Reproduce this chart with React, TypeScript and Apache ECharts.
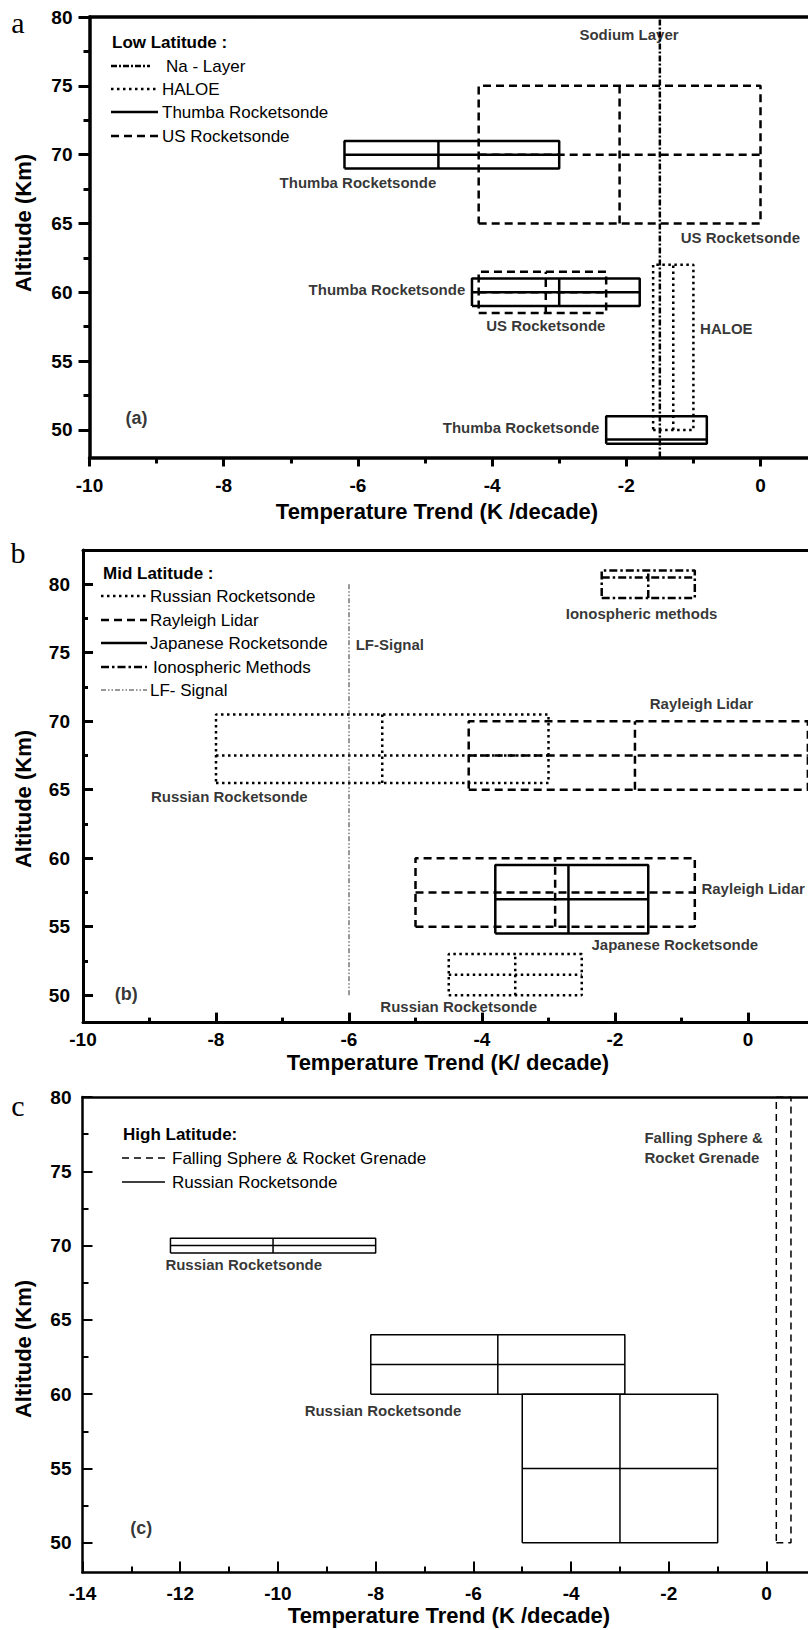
import React, { useEffect, useRef } from "react";
import * as echarts from "echarts";

// ---------- Panel a : Low latitude ----------
const aXLabels = [-10, -8, -6, -4, -2, 0];
const aYLabels = [50, 55, 60, 65, 70, 75, 80];
const aYMinor = [52.5, 57.5, 62.5, 67.5, 72.5, 77.5];
// box: [xLeft, xDivider, xRight, yBottom, yMiddle, yTop]
const aThumbaBoxes = [
  [-6.2, -4.8, -3.0, 69, 70, 71],
  [-4.3, -3.0, -1.8, 59, 60, 61],
  [-2.3, null, -0.8, 49, 49.3, 51],
];
const aUSBoxes = [
  [-4.2, -2.1, 0, 65, 70, 75],
  [-4.2, -3.2, -2.3, 58.5, 60, 61.5],
];
const aHaloeBoxes = [[-1.6, -1.3, -1.0, 50, null, 62]];
const aSodiumLine = [[-1.5, 48], [-1.5, 80]];
const aLabels = [
  ["Sodium Layer", -1.96, 78.7, "center"],
  ["Thumba Rocketsonde", -6.0, 68.0, "center"],
  ["US Rocketsonde", -0.3, 64.0, "center"],
  ["Thumba Rocketsonde", -4.4, 60.2, "right"],
  ["US Rocketsonde", -3.2, 57.6, "center"],
  ["HALOE", -0.9, 57.4, "left"],
  ["Thumba Rocketsonde", -2.4, 50.2, "right"],
];
const aTag = ["(a)", -9.3, 50.9];
const aLegend = ["Na - Layer", "HALOE", "Thumba Rocketsonde", "US Rocketsonde"];

// ---------- Panel b : Mid latitude ----------
const bXLabels = [-10, -8, -6, -4, -2, 0];
const bYLabels = [50, 55, 60, 65, 70, 75, 80];
const bYMinor = [52.5, 57.5, 62.5, 67.5, 72.5, 77.5];
const bRussianBoxes = [
  [-8.0, -5.5, -3.0, 65.5, 67.5, 70.5],
  [-4.5, -3.5, -2.5, 50, 51.5, 53],
];
const bRayleighBoxes = [
  [-4.2, -1.7, 0.9, 65, 67.5, 70],
  [-5.0, -2.9, -0.8, 55, 57.5, 60],
];
const bJapaneseBoxes = [[-3.8, -2.7, -1.5, 54.5, 57, 59.5]];
const bIonoBoxes = [[-2.2, -1.5, -0.8, 79, 80.5, 81]];
const bLFLine = [[-6, 50], [-6, 80]];
const bLabels = [
  ["Ionospheric methods", -1.6, 77.9, "center"],
  ["LF-Signal", -5.9, 75.6, "left"],
  ["Rayleigh Lidar", -0.7, 71.3, "center"],
  ["Russian Rocketsonde", -7.8, 64.5, "center"],
  ["Rayleigh Lidar", -0.7, 57.8, "left"],
  ["Japanese Rocketsonde", -1.1, 53.7, "center"],
  ["Russian Rocketsonde", -4.35, 49.2, "center"],
];
const bTag = ["(b)", -9.35, 50.1];
const bLegend = ["Russian Rocketsonde", "Rayleigh Lidar", "Japanese Rocketsonde", "Ionospheric Methods", "LF- Signal"];

// ---------- Panel c : High latitude ----------
const cXLabels = [-14, -12, -10, -8, -6, -4, -2, 0];
const cYLabels = [50, 55, 60, 65, 70, 75, 80];
const cYMinor = [52.5, 57.5, 62.5, 67.5, 72.5, 77.5];
const cRussianBoxes = [
  [-12.2, -10.1, -8.0, 69.5, 70, 70.5],
  [-8.1, -5.5, -2.9, 60, 62, 64],
  [-5.0, -3.0, -1.0, 50, 55, 60],
];
const cFallingBoxes = [[0.2, null, 0.5, 50, null, 80]];
const cLabels = [
  ["Falling Sphere &\nRocket Grenade", -2.5, 76.6, "left"],
  ["Russian Rocketsonde", -10.7, 68.7, "center"],
  ["Russian Rocketsonde", -7.85, 58.9, "center"],
];
const cTag = ["(c)", -12.8, 51.0];
const cLegend = ["Falling Sphere & Rocket Grenade", "Russian Rocketsonde"];

const FONT = '"Liberation Sans", Arial, Helvetica, sans-serif';
const SERIF = '"Liberation Serif", "Times New Roman", serif';

type St = { type: any; width: number; color?: string };
const ST: Record<string, St> = {
  na: { type: [6, 2, 2, 2], width: 2.5 },
  dot: { type: [2.5, 3.5], width: 2.5 },
  solid: { type: "solid", width: 2.5 },
  dash: { type: [8, 5], width: 2.5 },
  iono: { type: [8, 3, 2.5, 3], width: 2.5 },
  lf: { type: [5, 2, 1.5, 2, 1.5, 2], width: 1, color: "#333" },
  thin: { type: "solid", width: 1.5 },
  thinDash: { type: [7, 5], width: 1.5 },
};

function lineSeries(data: any[], st: St, xi: number, yi: number, name: string) {
  return {
    type: "line",
    name,
    xAxisIndex: xi,
    yAxisIndex: yi,
    data,
    symbol: "none",
    silent: true,
    lineStyle: { color: st.color || "#000", width: st.width, type: st.type, cap: "butt" },
    z: 3,
  };
}

function boxSeries(boxes: any[], st: St, xi: number, yi: number, name: string) {
  const out: any[] = [];
  boxes.forEach((b) => {
    const [x0, xm, x1, y0, ym, y1] = b;
    out.push(lineSeries([[x0, y0], [x1, y0], [x1, y1], [x0, y1], [x0, y0]], st, xi, yi, name));
    if (xm != null) out.push(lineSeries([[xm, y0], [xm, y1]], st, xi, yi, name));
    if (ym != null) out.push(lineSeries([[x0, ym], [x1, ym]], st, xi, yi, name));
  });
  return out;
}

function labelSeries(labels: any[], xi: number, yi: number, size: number) {
  return {
    type: "scatter",
    xAxisIndex: xi,
    yAxisIndex: yi,
    symbolSize: 1,
    silent: true,
    itemStyle: { color: "rgba(0,0,0,0)" },
    z: 5,
    data: labels.map((l) => ({
      value: [l[1], l[2]],
      label: {
        show: true,
        formatter: l[0],
        position: "inside",
        align: l[3] || "center",
        verticalAlign: "middle",
        color: "#000",
        fontFamily: FONT,
        fontWeight: "bold",
        fontSize: size,
        lineHeight: 20,
      },
    })),
  };
}

type PanelCfg = {
  grid: any;
  xMin: number;
  xMax: number;
  yMin: number;
  yMax: number;
  xLabels: number[];
  yLabels: number[];
  yMinor: number[];
  inside: boolean;
  lineW: number;
  tickW: number;
  xTickLen: number;
  xMinorLen: number;
  yTickLen: number;
  yMinorLen: number;
  xLabelMargin: number;
  yLabelMargin: number;
};

const PANELS: PanelCfg[] = [
  {
    grid: { left: 89.5, top: 17, width: 12 * 67.1, height: 440.5 },
    xMin: -10, xMax: 2, yMin: 48, yMax: 80,
    xLabels: aXLabels, yLabels: aYLabels, yMinor: aYMinor,
    inside: false, lineW: 3.5, tickW: 3, xTickLen: 9, xMinorLen: 6, yTickLen: 11, yMinorLen: 6,
    xLabelMargin: 18, yLabelMargin: 17,
  },
  {
    grid: { left: 83, top: 550, width: 12 * 66.5, height: 472.6 },
    xMin: -10, xMax: 2, yMin: 48, yMax: 82.5,
    xLabels: bXLabels, yLabels: bYLabels, yMinor: bYMinor,
    inside: true, lineW: 3, tickW: 3, xTickLen: 10, xMinorLen: 5, yTickLen: 10, yMinorLen: 5,
    xLabelMargin: 7, yLabelMargin: 13,
  },
  {
    grid: { left: 82.5, top: 1097, width: 16 * 48.86, height: 475.5 },
    xMin: -14, xMax: 2, yMin: 48, yMax: 80,
    xLabels: cXLabels, yLabels: cYLabels, yMinor: cYMinor,
    inside: true, lineW: 2.5, tickW: 2, xTickLen: 11, xMinorLen: 6, yTickLen: 10, yMinorLen: 6,
    xLabelMargin: 11, yLabelMargin: 11,
  },
];

const tickLabelStyle = { color: "#000", fontFamily: FONT, fontWeight: "bold", fontSize: 19 };

function buildAxes() {
  const grid: any[] = [];
  const xAxis: any[] = [];
  const yAxis: any[] = [];
  PANELS.forEach((p, gi) => {
    grid.push({ ...p.grid, containLabel: false });
    xAxis.push({
      type: "value", gridIndex: gi, position: "bottom", min: p.xMin, max: p.xMax, interval: 2,
      axisLine: { show: true, onZero: false, lineStyle: { color: "#000", width: p.lineW } },
      axisTick: { show: true, inside: p.inside, length: p.xTickLen, lineStyle: { color: "#000", width: p.tickW } },
      minorTick: { show: true, splitNumber: 2, length: p.xMinorLen, lineStyle: { color: "#000", width: p.tickW } },
      axisLabel: { show: true, customValues: p.xLabels, margin: p.xLabelMargin, ...tickLabelStyle },
      splitLine: { show: false },
    });
    xAxis.push({
      type: "value", gridIndex: gi, position: "top", min: p.xMin, max: p.xMax,
      axisLine: { show: true, onZero: false, lineStyle: { color: "#000", width: p.lineW } },
      axisTick: { show: false }, axisLabel: { show: false }, splitLine: { show: false },
    });
    yAxis.push({
      type: "value", gridIndex: gi, position: "left", min: p.yMin, max: p.yMax,
      axisLine: { show: true, onZero: false, lineStyle: { color: "#000", width: p.lineW } },
      axisTick: { show: true, inside: p.inside, length: p.yTickLen, customValues: p.yLabels, lineStyle: { color: "#000", width: p.tickW } },
      axisLabel: { show: true, customValues: p.yLabels, margin: p.yLabelMargin, ...tickLabelStyle },
      splitLine: { show: false },
    });
    yAxis.push({
      type: "value", gridIndex: gi, position: "left", min: p.yMin, max: p.yMax,
      axisLine: { show: false, onZero: false },
      axisTick: { show: true, inside: p.inside, length: p.yMinorLen, customValues: p.yMinor, lineStyle: { color: "#000", width: p.tickW } },
      axisLabel: { show: false }, splitLine: { show: false },
    });
  });
  return { grid, xAxis, yAxis };
}

function dashOf(st: St) {
  return Array.isArray(st.type) ? st.type : null;
}

function legendGraphics(
  header: string, hx: number, hy: number, names: string[], styles: St[],
  ys: number[], sx: number[][], tx: number[]
) {
  const els: any[] = [
    { type: "text", x: hx, y: hy, style: { text: header, font: `bold 17px ${FONT}`, fill: "#000", align: "left", verticalAlign: "middle" } },
  ];
  names.forEach((n, i) => {
    const st = styles[i];
    els.push({
      type: "line",
      shape: { x1: sx[i][0], y1: ys[i], x2: sx[i][1], y2: ys[i] },
      style: { stroke: st.color || "#000", lineWidth: st.width, lineDash: dashOf(st), lineCap: "butt" },
    });
    els.push({ type: "text", x: tx[i], y: ys[i], style: { text: n, font: `17px ${FONT}`, fill: "#000", align: "left", verticalAlign: "middle" } });
  });
  return els;
}

function titleText(text: string, x: number, y: number, rot = 0) {
  return {
    type: "text", x, y, rotation: rot,
    style: { text, font: `bold 22px ${FONT}`, fill: "#000", align: "center", verticalAlign: "middle" },
  };
}

function panelLetter(text: string, x: number, y: number) {
  return { type: "text", x, y, style: { text, font: `30px ${SERIF}`, fill: "#000", align: "center", verticalAlign: "middle" } };
}

function buildOption() {
  const { grid, xAxis, yAxis } = buildAxes();
  const series: any[] = [
    // panel a
    ...boxSeries(aUSBoxes, ST.dash, 0, 0, "US Rocketsonde"),
    ...boxSeries(aHaloeBoxes, ST.dot, 0, 0, "HALOE"),
    lineSeries(aSodiumLine, ST.na, 0, 0, "Na - Layer"),
    ...boxSeries(aThumbaBoxes, ST.solid, 0, 0, "Thumba Rocketsonde"),
    labelSeries(aLabels, 0, 0, 15),
    labelSeries([aTag], 0, 0, 18),
    // panel b
    ...boxSeries(bRussianBoxes, ST.dot, 2, 2, "Russian Rocketsonde"),
    ...boxSeries(bRayleighBoxes, ST.dash, 2, 2, "Rayleigh Lidar"),
    ...boxSeries(bJapaneseBoxes, ST.solid, 2, 2, "Japanese Rocketsonde"),
    ...boxSeries(bIonoBoxes, ST.iono, 2, 2, "Ionospheric Methods"),
    lineSeries(bLFLine, ST.lf, 2, 2, "LF- Signal"),
    labelSeries(bLabels, 2, 2, 15),
    labelSeries([bTag], 2, 2, 18),
    // panel c
    ...boxSeries(cRussianBoxes, ST.thin, 4, 4, "Russian Rocketsonde (high)"),
    ...boxSeries(cFallingBoxes, ST.thinDash, 4, 4, "Falling Sphere & Rocket Grenade"),
    labelSeries(cLabels, 4, 4, 15),
    labelSeries([cTag], 4, 4, 18),
  ];

  const graphic: any[] = [
    panelLetter("a", 18, 22),
    panelLetter("b", 18, 552),
    panelLetter("c", 18, 1105),
    titleText("Temperature Trend (K /decade)", 437, 511),
    titleText("Altitude (Km)", 23, 223, Math.PI / 2),
    titleText("Temperature Trend (K/ decade)", 448, 1062),
    titleText("Altitude (Km)", 23, 799, Math.PI / 2),
    titleText("Temperature Trend (K /decade)", 449, 1615),
    titleText("Altitude (Km)", 23, 1349, Math.PI / 2),
    ...legendGraphics(
      "Low Latitude :", 112, 42, aLegend, [ST.na, ST.dot, ST.solid, ST.dash],
      [66, 89, 112, 136], [[111, 150], [111, 158], [111, 158], [111, 158]], [166, 162, 162, 162]
    ),
    ...legendGraphics(
      "Mid Latitude :", 103, 573, bLegend, [ST.dot, ST.dash, ST.solid, ST.iono, ST.lf],
      [596, 620, 643, 667, 690], [[101, 147], [101, 147], [101, 147], [101, 147], [101, 147]], [150, 150, 150, 153, 150]
    ),
    ...legendGraphics(
      "High Latitude:", 123, 1134, cLegend, [ST.thinDash, ST.thin],
      [1158, 1182], [[122, 165], [122, 165]], [172, 172]
    ),
  ];

  return {
    animation: false,
    backgroundColor: "#fff",
    grid,
    xAxis,
    yAxis,
    series,
    graphic: { elements: graphic },
  };
}

export default function App() {
  const ref = useRef<HTMLDivElement>(null);
  useEffect(() => {
    if (!ref.current) return;
    const chart = echarts.init(ref.current, undefined, { renderer: "svg" });
    chart.setOption(buildOption() as any);
    return () => chart.dispose();
  }, []);
  return (
    <div
      style={{ position: "fixed", left: 0, top: 0, width: 808, height: 1630, overflow: "hidden", background: "#fff" }}
    >
      <div ref={ref} style={{ width: 920, height: 1630 }} />
    </div>
  );
}
